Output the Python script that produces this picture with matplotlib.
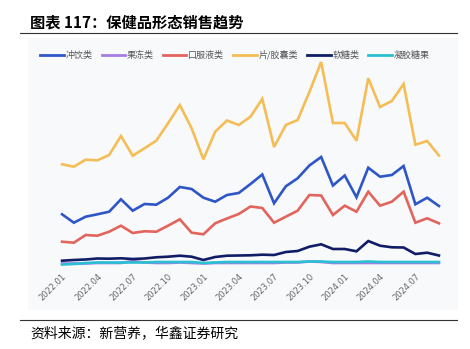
import matplotlib.pyplot as plt
from matplotlib.lines import Line2D
from matplotlib.patches import Rectangle

plt.rcParams['font.family'] = ['Noto Sans CJK SC', 'DejaVu Sans']

# 月份 2022.01 - 2024.09
months = [f'{y}.{m:02d}' for y in (2022, 2023, 2024) for m in range(1, 13)][:33]
tick_labels = months[::3]

# 各形态销售趋势（读图估计，相对值）
chongyin = [65.7, 57.3, 63.3, 65.7, 68.3, 80.7, 69.3, 76, 75.3, 82.3, 93, 91, 82.3, 78.3, 85, 87,
            96, 105.5, 76.7, 93.7, 101.7, 114.5, 123, 94.5, 104.5, 82.7, 112.3, 103.3, 105, 114,
            75.7, 82.3, 74]
guodong = [16.5, 16.5, 16.5, 17, 17, 17, 19, 17.5, 17, 17, 17.5, 17, 16.5, 17, 17, 17, 17, 17, 17,
           17.5, 17.5, 18.5, 18, 17, 17, 17, 17, 17, 17, 17, 17, 17, 17]
koufuye = [38.3, 37.3, 45, 44.3, 48.3, 54.3, 47, 48.7, 48.3, 54.3, 60.7, 47.3, 45.7, 56.7, 61.5, 66,
           73.5, 72, 57.3, 63.3, 69.3, 85, 84.5, 65, 74.3, 68.3, 88.3, 74.3, 78.3, 88.3, 57.3, 61.7,
           56.7]
pian_jiaonang = [115.7, 113.3, 120.3, 119.7, 125, 144, 124.3, 131.7, 139.3, 156.7, 175, 151.7, 120.7,
                 148.3, 159.5, 155, 163.3, 181.2, 133, 155, 160, 188, 218, 157, 157, 139.3, 201.7,
                 173, 179, 196, 135.3, 139, 124.5]
ruantang = [19.3, 20, 20.5, 21.5, 21.3, 21.7, 21, 21.5, 22.7, 23.3, 24.3, 23.3, 20, 23, 24.3, 24.5,
            24.7, 25.3, 25, 28, 29, 33.3, 35.7, 31, 31, 28.7, 39, 34.3, 32.7, 32.5, 26, 27.3, 24.5]
ningjiao = [15.5, 16, 17, 17.5, 17.5, 17.5, 17.5, 17.5, 18, 18, 18, 18, 17, 17.5, 18, 18, 18, 18, 18,
            18, 18, 18.5, 18.5, 18, 18, 18, 18.5, 18, 18, 18, 18, 18, 18]

series = [
    ('冲饮类', chongyin, '#2f56c6'),
    ('果冻类', guodong, '#a57de3'),
    ('口服液类', koufuye, '#e2645c'),
    ('片/胶囊类', pian_jiaonang, '#f4bd56'),
    ('软糖类', ruantang, '#111c66'),
    ('凝胶糖果', ningjiao, '#2bbfd3'),
]

fig = plt.figure(figsize=(4.7, 3.49), dpi=100)

# 图表背景
bg = Rectangle((28 / 470, 1 - 310 / 349), 430 / 470, 272 / 349, transform=fig.transFigure,
               facecolor='#f8f9fb', edgecolor='none', zorder=-5)
fig.add_artist(bg)

ax = fig.add_axes([55 / 470, 1 - 268 / 349, 391 / 470, 208 / 349])
ax.set_zorder(2)
ax.patch.set_alpha(0)
x = list(range(len(months)))
for name, vals, color in series:
    ax.plot(x, vals, color=color, lw=1.9, solid_joinstyle='miter')

ax.set_xlim(-0.6, 32.6)
ax.set_ylim(12, 220)
ax.set_xticks(x[::3])
ax.set_xticklabels(tick_labels, rotation=45, ha='right', rotation_mode='anchor',
                   fontsize=6, color='#666666', family='DejaVu Sans')
ax.tick_params(axis='x', length=0, pad=3)
ax.set_yticks([])
for s in ax.spines.values():
    s.set_visible(False)

handles = [Line2D([], [], color=c, lw=2) for _, _, c in series]
fig.legend(handles, [n for n, _, _ in series], loc='center', bbox_to_anchor=(0.5, 1 - 55 / 349),
           ncol=6, frameon=False, fontsize=6.5, labelcolor='#555555', handlelength=2.6,
           handletextpad=0.2, columnspacing=1.0)

# 标题与来源
fig.text(30 / 470, 1 - 22 / 349, '图表 117：保健品形态销售趋势', fontsize=11,
         fontweight='bold', va='center', ha='left')
fig.add_artist(Line2D([20 / 470, 457 / 470], [1 - 33 / 349] * 2, color='#333333', lw=0.8))
fig.add_artist(Line2D([20 / 470, 457 / 470], [1 - 320 / 349] * 2, color='#333333', lw=0.8))
fig.text(30 / 470, 1 - 333 / 349, '资料来源：新营养，华鑫证券研究', fontsize=10,
         va='center', ha='left')

fig.savefig('out.png', dpi=100)
